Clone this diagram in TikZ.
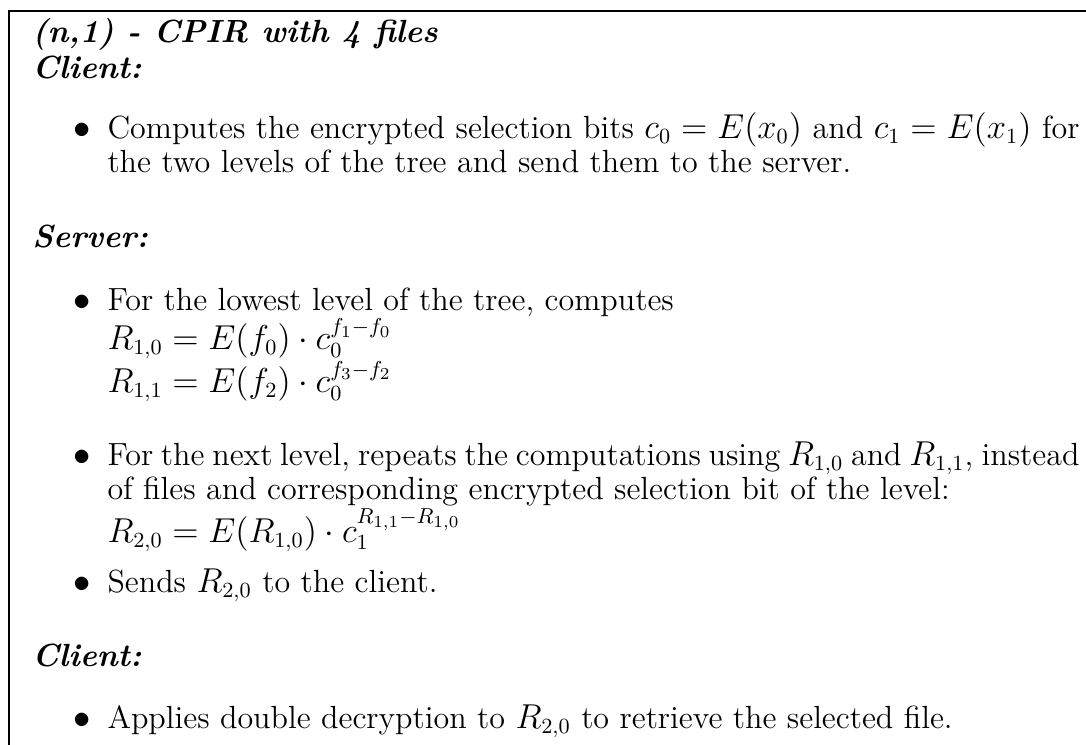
\documentclass[tikz,border=0pt,12pt]{standalone}
\usepackage{amsmath}
\newcommand{\bodysize}{\fontsize{13.35pt}{14.5pt}\selectfont}
\begin{document}
\begin{tikzpicture}[x=1pt,y=1pt,
  head/.style={anchor=base west, inner sep=0pt, font=\bodysize\bfseries\itshape},
  itemtext/.style={anchor=base west, inner sep=0pt, text width=405pt, align=justify, font=\bodysize},
  dot/.style={anchor=base east, inner sep=0pt, font=\bodysize}]
  \useasboundingbox (0,0) rectangle (452.5,-310.4);
  % frame (only the top and left sides are in view)
  \draw[line width=0.6pt] (3.75,-310.4) -- (3.75,-4.6) -- (452.5,-4.6);
  \node[head] (title) at (13.3,-17.5) {(n,1) - CPIR with 4 files};
  \node[head] (client) at (13.3,-32.5) {Client:};
  \node[dot] (b1) at (38,-57.5) {$\bullet$};
  \node[itemtext] (i1) at (44.6,-57.5) {Computes the encrypted selection bits $c_0 = E(x_0)$ and $c_1 = E(x_1)$ for the two levels of the tree and send them to the server.};
  \node[head] (server) at (13.3,-103.3) {Server:};
  \node[dot] (b2) at (38,-129.2) {$\bullet$};
  \node[itemtext] (i2) at (44.6,-129.2) {For the lowest level of the tree, computes\\
    $R_{1,0} = E(f_0)\cdot c_0^{f_1-f_0}$\\
    $R_{1,1} = E(f_2)\cdot c_0^{f_3-f_2}$};
  \node[dot] (b3) at (38,-193.8) {$\bullet$};
  \node[itemtext] (i3) at (44.6,-193.8) {For the next level, repeats the computations using $R_{1,0}$ and $R_{1,1}$, instead of files and corresponding encrypted selection bit of the level:\\
    $R_{2,0} = E(R_{1,0})\cdot c_1^{R_{1,1}-R_{1,0}}$};
  \node[dot] (b4) at (38,-246.7) {$\bullet$};
  \node[itemtext] (i4) at (44.6,-246.7) {Sends $R_{2,0}$ to the client.};
  \node[head] (client2) at (13.3,-277.9) {Client:};
  \node[dot] (b5) at (38,-303.5) {$\bullet$};
  \node[itemtext] (i5) at (44.6,-303.5) {Applies double decryption to $R_{2,0}$ to retrieve the selected file.};
\end{tikzpicture}
\end{document}
